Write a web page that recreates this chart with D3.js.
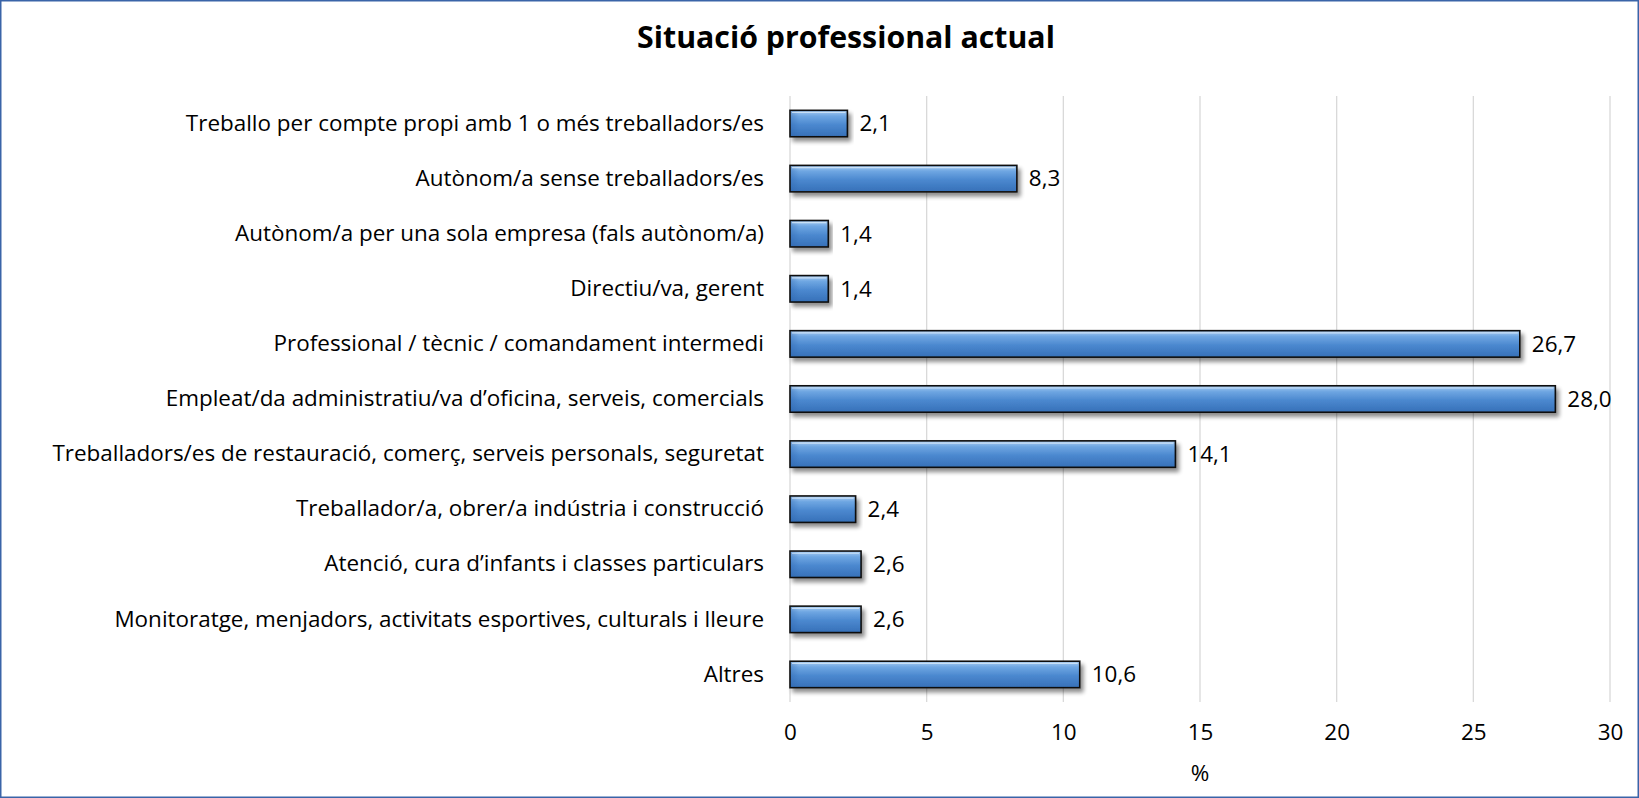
<!DOCTYPE html>
<html>
<head>
<meta charset="utf-8">
<script src="https://cdn.jsdelivr.net/npm/d3@7"></script>
<style>
  html, body { margin: 0; padding: 0; background: #fff; }
  svg { display: block; }
</style>
</head>
<body>
<script>
// Categories (top to bottom) and their percentages
const categories = [
  "Treballo per compte propi amb 1 o més treballadors/es",
  "Autònom/a sense treballadors/es",
  "Autònom/a per una sola empresa (fals autònom/a)",
  "Directiu/va, gerent",
  "Professional / tècnic / comandament intermedi",
  "Empleat/da administratiu/va d’oficina, serveis, comercials",
  "Treballadors/es de restauració, comerç, serveis personals, seguretat",
  "Treballador/a, obrer/a indústria i construcció",
  "Atenció, cura d’infants i classes particulars",
  "Monitoratge, menjadors, activitats esportives, culturals i lleure",
  "Altres"
];
const values = [2.1, 8.3, 1.4, 1.4, 26.7, 28.0, 14.1, 2.4, 2.6, 2.6, 10.6];
const xTicks = [0, 5, 10, 15, 20, 25, 30];
const titleText = "Situació professional actual";
const xAxisTitle = "%";

const W = 1639, H = 798;
const margin = { left: 790, right: 29, top: 96, bottom: 96 };
const font = "'Open Sans', sans-serif";

const svg = d3.select("body").append("svg")
  .attr("width", W).attr("height", H);

// Measure a string in the chosen font to size text to the layout width
function fitSize(str, targetWidth, weight) {
  const t = svg.append("text").attr("font-family", font)
    .attr("font-weight", weight || "normal").attr("font-size", 20).text(str);
  const w = t.node().getComputedTextLength();
  t.remove();
  return 20 * targetWidth / w;
}
const longest = categories.reduce((a, b) => (a.length > b.length ? a : b));
const fs = fitSize(longest, 712);
const titleFs = fitSize(titleText, 418, "bold");

const defs = svg.append("defs");
const grad = defs.append("linearGradient")
  .attr("id", "barGrad").attr("x1", 0).attr("y1", 0).attr("x2", 0).attr("y2", 1);
grad.append("stop").attr("offset", "0%").attr("stop-color", "#a9cdf2");
grad.append("stop").attr("offset", "22%").attr("stop-color", "#6ea6e2");
grad.append("stop").attr("offset", "55%").attr("stop-color", "#4b88cf");
grad.append("stop").attr("offset", "100%").attr("stop-color", "#3670b8");

const endGrad = defs.append("linearGradient")
  .attr("id", "endGrad").attr("x1", 0).attr("y1", 0).attr("x2", 1).attr("y2", 0);
endGrad.append("stop").attr("offset", "0%").attr("stop-color", "#2d64ad").attr("stop-opacity", 0.35);
endGrad.append("stop").attr("offset", "100%").attr("stop-color", "#2d64ad").attr("stop-opacity", 0);

const shadow = defs.append("filter").attr("id", "shadow")
  .attr("x", "-5%").attr("y", "-40%").attr("width", "115%").attr("height", "190%");
shadow.append("feGaussianBlur").attr("in", "SourceAlpha").attr("stdDeviation", 2.2).attr("result", "b");
shadow.append("feOffset").attr("in", "b").attr("dx", 3).attr("dy", 4).attr("result", "o");
shadow.append("feComponentTransfer").attr("in", "o").attr("result", "s")
  .append("feFuncA").attr("type", "linear").attr("slope", 0.45);
const merge = shadow.append("feMerge");
merge.append("feMergeNode").attr("in", "s");
merge.append("feMergeNode").attr("in", "SourceGraphic");

// Outer frame
svg.append("rect")
  .attr("x", 0.75).attr("y", 0.75).attr("width", W - 1.5).attr("height", H - 1.5)
  .attr("fill", "#fff").attr("stroke", "#3a64a8").attr("stroke-width", 1.5);

// Title
svg.append("text")
  .attr("x", 846).attr("y", 48)
  .attr("text-anchor", "middle")
  .attr("font-family", font).attr("font-weight", "bold").attr("font-size", titleFs)
  .attr("fill", "#000")
  .text(titleText);

const x = d3.scaleLinear().domain([0, 30]).range([margin.left, W - margin.right]);
const y = d3.scaleBand().domain(categories)
  .range([margin.top, H - margin.bottom]).paddingInner(0.52).paddingOuter(0.26);

// Vertical gridlines
svg.append("g").selectAll("line").data(xTicks).join("line")
  .attr("x1", d => x(d)).attr("x2", d => x(d))
  .attr("y1", margin.top).attr("y2", H - margin.bottom)
  .attr("stroke", "#d9d9d9").attr("stroke-width", 1.3);

// X axis tick labels
const xAxis = d3.axisBottom(x).tickValues(xTicks).tickSize(0).tickPadding(0).tickFormat(d3.format("d"));
const gx = svg.append("g").attr("transform", `translate(0,${H - margin.bottom + 22})`).call(xAxis);
gx.select(".domain").remove();
gx.selectAll("text")
  .attr("font-family", font).attr("font-size", fs).attr("fill", "#000");

// X axis title
svg.append("text")
  .attr("x", (x(0) + x(30)) / 2).attr("y", 773).attr("dy", "0.35em")
  .attr("text-anchor", "middle")
  .attr("font-family", font).attr("font-size", fs).attr("fill", "#000")
  .text(xAxisTitle);

// Category labels
const yAxis = d3.axisLeft(y).tickSize(0).tickPadding(26);
const gy = svg.append("g").attr("transform", `translate(${x(0)},0)`).call(yAxis);
gy.select(".domain").remove();
gy.selectAll("text")
  .attr("font-family", font).attr("font-size", fs).attr("fill", "#000");

const rows = categories.map((c, i) => ({ c, v: values[i] }));

// Bars
const bars = svg.append("g").selectAll("g").data(rows).join("g");
bars.append("rect")
  .attr("x", x(0)).attr("y", d => y(d.c))
  .attr("width", d => x(d.v) - x(0)).attr("height", y.bandwidth())
  .attr("fill", "url(#barGrad)")
  .attr("stroke", "#111").attr("stroke-width", 1.6)
  .attr("filter", "url(#shadow)");
// Left-end bevel shading
bars.append("rect")
  .attr("x", x(0) + 1).attr("y", d => y(d.c) + 1)
  .attr("width", d => Math.min(8, x(d.v) - x(0) - 2)).attr("height", y.bandwidth() - 2)
  .attr("fill", "url(#endGrad)");
// Top highlight
bars.append("line")
  .attr("x1", x(0) + 2).attr("x2", d => x(d.v) - 2)
  .attr("y1", d => y(d.c) + 2.2).attr("y2", d => y(d.c) + 2.2)
  .attr("stroke", "#d6e8fa").attr("stroke-width", 1.2).attr("stroke-opacity", 0.8);

// Value labels
svg.append("g").selectAll("text").data(rows).join("text")
  .attr("x", d => x(d.v) + 12)
  .attr("y", d => y(d.c) + y.bandwidth() / 2)
  .attr("dy", "0.35em")
  .attr("font-family", font).attr("font-size", fs).attr("fill", "#000")
  .text(d => d3.format(".1f")(d.v).replace(".", ","));
</script>
</body>
</html>
